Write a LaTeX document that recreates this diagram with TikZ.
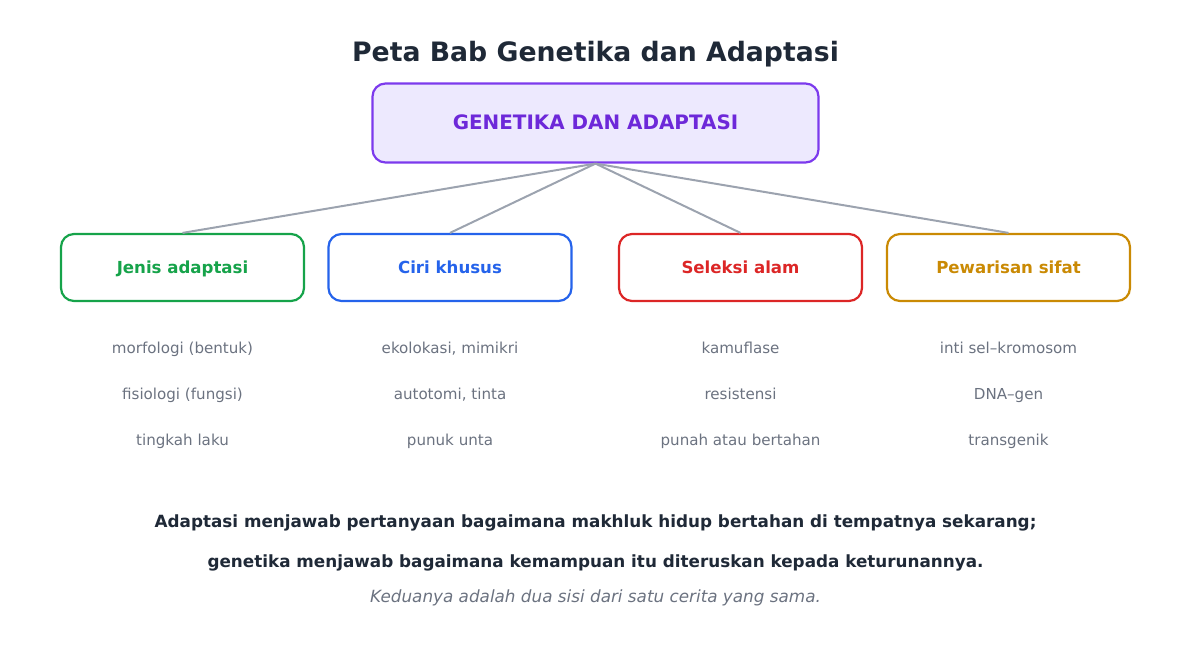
\documentclass[tikz,border=0pt]{standalone}
\usepackage{fontspec}
\setmainfont{DejaVu Sans}
\usetikzlibrary{positioning}

\definecolor{inkDark}{HTML}{1F2937}
\definecolor{inkGray}{HTML}{6B7280}
\definecolor{linkGray}{HTML}{9CA3AF}
\definecolor{rootLine}{HTML}{7C3AED}
\definecolor{rootFill}{HTML}{EDE9FE}
\definecolor{rootText}{HTML}{6D28D9}
\definecolor{greenLine}{HTML}{16A34A}
\definecolor{blueLine}{HTML}{2563EB}
\definecolor{redLine}{HTML}{DC2626}
\definecolor{goldLine}{HTML}{CA8A04}

\begin{document}
\begin{tikzpicture}[x=1pt,y=-1pt,node distance=46pt,
    root node/.style={draw=rootLine,fill=rootFill,text=rootText,line width=2.2pt,rounded corners=13pt,minimum width=446pt,minimum height=79pt,text height=14pt,text depth=0pt,font=\bfseries\fontsize{19.9}{24}\selectfont},
    branch node/.style={draw=#1,text=#1,fill=white,line width=2.2pt,rounded corners=13pt,minimum width=243pt,minimum height=67pt,text height=12pt,text depth=0.5pt,font=\bfseries\fontsize{16.6}{20}\selectfont},
    item node/.style={text=inkGray,text height=11pt,text depth=1pt,font=\fontsize{15.1}{18}\selectfont},
    note node/.style={anchor=base,text=inkDark,font=\bfseries\fontsize{16.8}{20}\selectfont},
    aside node/.style={anchor=base,text=inkGray,font=\itshape\fontsize{16.8}{20}\selectfont},
    link/.style={draw=linkGray,line width=2pt}]
    \useasboundingbox (0,0) rectangle (1191,652);

    \node[anchor=base,text=inkDark,font=\bfseries\fontsize{26.7}{32}\selectfont] (title) at (595.5,62) {Peta Bab Genetika dan Adaptasi};

    \node[root node] (root) at (595.5,123) {GENETIKA DAN ADAPTASI};

    \node[branch node=greenLine] (jenis) at (182.5,267.5) {Jenis adaptasi};
    \node[branch node=blueLine] (ciri) at (450,267.5) {Ciri khusus};
    \node[branch node=redLine] (seleksi) at (740.5,267.5) {Seleksi alam};
    \node[branch node=goldLine] (waris) at (1008.5,267.5) {Pewarisan sifat};

    \path[link]
        (root.south) edge (jenis.north)
        (root.south) edge (ciri.north)
        (root.south) edge (seleksi.north)
        (root.south) edge (waris.north);

    \node[item node] (j1) at (182.5,348) {morfologi (bentuk)};
    \node[item node] (j2) [below of = j1] {fisiologi (fungsi)};
    \node[item node] (j3) [below of = j2] {tingkah laku};

    \node[item node] (c1) at (450,348) {ekolokasi, mimikri};
    \node[item node] (c2) [below of = c1] {autotomi, tinta};
    \node[item node] (c3) [below of = c2] {punuk unta};

    \node[item node] (s1) at (740.5,348) {kamuflase};
    \node[item node] (s2) [below of = s1] {resistensi};
    \node[item node] (s3) [below of = s2] {punah atau bertahan};

    \node[item node] (w1) at (1008.5,348) {inti sel–kromosom};
    \node[item node] (w2) [below of = w1] {DNA–gen};
    \node[item node] (w3) [below of = w2] {transgenik};

    \node[note node] (sum1) at (595.5,527) {Adaptasi menjawab pertanyaan bagaimana makhluk hidup bertahan di tempatnya sekarang;};
    \node[note node] (sum2) at (595.5,567) {genetika menjawab bagaimana kemampuan itu diteruskan kepada keturunannya.};
    \node[aside node] (sum3) at (595.5,602) {Keduanya adalah dua sisi dari satu cerita yang sama.};
\end{tikzpicture}
\end{document}
